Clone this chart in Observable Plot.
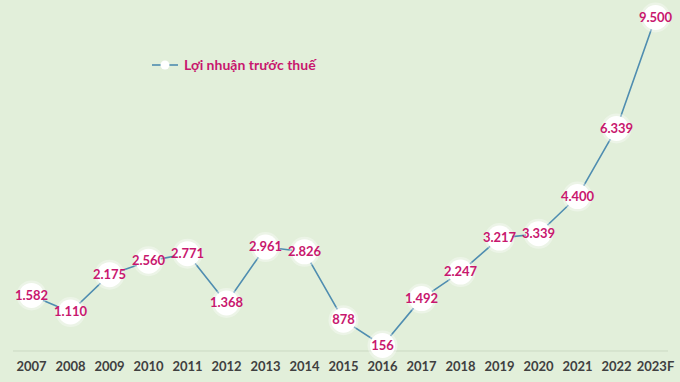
<!DOCTYPE html>
<html>
<head>
<meta charset="utf-8">
<script src="https://cdn.jsdelivr.net/npm/d3@7"></script>
<script src="https://cdn.jsdelivr.net/npm/@observablehq/plot@0.6"></script>
<style>
  html, body { margin: 0; padding: 0; background: #e2efda; }
  #chart { position: relative; width: 680px; height: 382px; overflow: hidden; }
  #legend { position: absolute; left: 152px; top: 56px; display: flex; align-items: center;
    font-family: Lato, "Open Sans", sans-serif; font-weight: bold; font-size: 14px; color: #c8176e; }
  #legend svg { margin-right: 6px; }
</style>
</head>
<body>
<div id="chart">
  <div id="legend">
    <svg width="26" height="10"><line x1="0" y1="5" x2="26" y2="5" stroke="#4f8db0" stroke-width="1.6"/><circle cx="13" cy="5" r="4.5" fill="#fff"/></svg>
    <span>Lợi nhuận trước thuế</span>
  </div>
</div>
<script>
const years = ["2007","2008","2009","2010","2011","2012","2013","2014","2015","2016","2017","2018","2019","2020","2021","2022","2023F"];
const profit = [1582, 1110, 2175, 2560, 2771, 1368, 2961, 2826, 878, 156, 1492, 2247, 3217, 3339, 4400, 6339, 9500];
const seriesName = "Lợi nhuận trước thuế";

const data = years.map((y, i) => ({year: y, value: profit[i]}));
const vn = d3.formatLocale({decimal: ",", thousands: ".", grouping: [3], currency: ["", ""]});
const fmt = vn.format(",d");

const chart = Plot.plot({
  width: 680,
  height: 382,
  marginLeft: 31,
  marginRight: 25,
  marginTop: 17,
  marginBottom: 31.5,
  style: {background: "#e2efda", fontFamily: "Lato, 'Open Sans', sans-serif"},
  x: {type: "point", domain: years, padding: 0, axis: null},
  y: {domain: [0, 9500], axis: null},
  marks: [
    Plot.ruleY([0], {stroke: "#cbd9c3", strokeWidth: 1, insetLeft: -18, insetRight: -13}),
    Plot.line(data, {x: "year", y: "value", stroke: "#4f8db0", strokeWidth: 1.6}),
    Plot.dot(data, {x: "year", y: "value", r: 15, fill: "#ffffff", fillOpacity: 0.35, stroke: "none"}),
    Plot.dot(data, {x: "year", y: "value", r: 12.5, fill: "#ffffff", stroke: "none"}),
    Plot.text(data, {x: "year", y: "value", text: d => fmt(d.value), fill: "#c8176e", fontWeight: "bold", fontSize: 13}),
    Plot.text(years, {x: d => d, frameAnchor: "bottom", lineAnchor: "middle", dy: 16, text: d => d, fill: "#404040", fontWeight: "bold", fontSize: 13})
  ]
});
document.getElementById("chart").prepend(chart);
</script>
</body>
</html>
